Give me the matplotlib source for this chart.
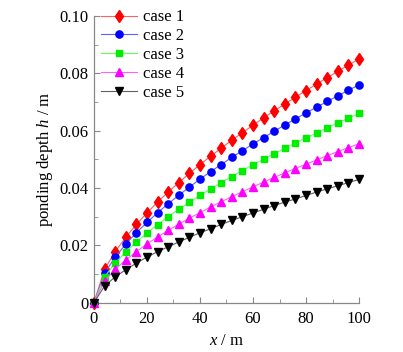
import matplotlib
matplotlib.use("Agg")
import matplotlib.pyplot as plt
from matplotlib.ticker import MultipleLocator

plt.rcParams['font.family'] = ['Liberation Serif', 'DejaVu Serif']
plt.rcParams['mathtext.fontset'] = 'custom'
plt.rcParams['mathtext.rm'] = 'Liberation Serif'
plt.rcParams['mathtext.it'] = 'Liberation Serif:italic'

x = [0, 4, 8, 12, 16, 20, 24, 28, 32, 36, 40, 44, 48, 52, 56, 60, 64, 68, 72, 76, 80, 84, 88, 92, 96, 100]
case1 = [0, .0116, .0178, .0228, .0273, .0313, .0351, .0386, .0419, .0451, .0482, .0511, .0539,
         .0567, .0593, .0619, .0645, .0669, .0693, .0717, .0740, .0763, .0785, .0807, .0829, .0850]
case2 = [0, .0103, .0159, .0204, .0244, .0280, .0314, .0345, .0375, .0403, .0431, .0457, .0482,
         .0507, .0530, .0554, .0576, .0598, .0620, .0641, .0662, .0682, .0702, .0722, .0741, .0760]
case3 = [0, .0090, .0138, .0177, .0212, .0243, .0272, .0300, .0326, .0350, .0374, .0397, .0419,
         .0440, .0461, .0481, .0500, .0520, .0538, .0557, .0575, .0592, .0610, .0627, .0644, .0660]
case4 = [0, .0075, .0116, .0149, .0178, .0205, .0229, .0252, .0274, .0295, .0314, .0334, .0352,
         .0370, .0387, .0404, .0421, .0437, .0453, .0468, .0483, .0498, .0513, .0527, .0541, .0555]
case5 = [0, .0058, .0090, .0115, .0138, .0159, .0178, .0195, .0212, .0228, .0244, .0258, .0273,
         .0287, .0300, .0313, .0326, .0339, .0351, .0362, .0374, .0386, .0397, .0408, .0419, .0430]
labels = ['case 1', 'case 2', 'case 3', 'case 4', 'case 5']
xticks = [0, 20, 40, 60, 80, 100]
yticks = [0, 0.02, 0.04, 0.06, 0.08, 0.10]
yticklabels = ['0', '0.02', '0.04', '0.06', '0.08', '0.10']

series = [case1, case2, case3, case4, case5]
colors = ['#ff0000', '#0000ff', '#00ee00', '#ff00ff', '#000000']
linecolors = ['#ff6060', '#6060ff', '#60ff60', '#ff60ff', '#606060']
markers = ['d', 'o', 's', '^', 'v']
msizes = [6.5, 5.2, 3.8, 5.5, 5.5]

fig = plt.figure(figsize=(4.03, 3.52), dpi=100)
ax = fig.add_axes([0.233, 0.140, 0.658, 0.8145])

for ys, c, lc, m, ms, lab in zip(series, colors, linecolors, markers, msizes, labels):
    ax.plot(x, ys, color=lc, lw=0.8, marker=m, ms=ms, mfc=c, mec=c, label=lab, clip_on=False, zorder=3)

ax.set_xlim(0, 100)
ax.set_ylim(0, 0.10)
ax.set_xticks(xticks)
ax.set_yticks(yticks)
ax.set_yticklabels(yticklabels)
ax.xaxis.set_minor_locator(MultipleLocator(10))
ax.yaxis.set_minor_locator(MultipleLocator(0.01))
for s in ['top', 'right']:
    ax.spines[s].set_visible(False)
for s in ['left', 'bottom']:
    ax.spines[s].set_color('#888888')
    ax.spines[s].set_linewidth(0.9)
ax.tick_params(which='both', direction='in', color='#888888', labelsize=12)
ax.tick_params(axis='y', pad=4)
ax.tick_params(axis='x', pad=6)
ax.tick_params(which='major', length=4)
ax.tick_params(which='minor', length=3)

ax.set_xlabel(r'$x$ / m', fontsize=12, labelpad=4)
ax.set_ylabel(r'ponding depth $h$ / m', fontsize=12, labelpad=3)

ax.legend(loc='upper left', frameon=False, fontsize=12, handlelength=2.2,
          bbox_to_anchor=(0.0, 1.046), labelspacing=0.17, handletextpad=0.36,
          borderaxespad=0.0, borderpad=0.4)

fig.savefig('out.png', dpi=100)
